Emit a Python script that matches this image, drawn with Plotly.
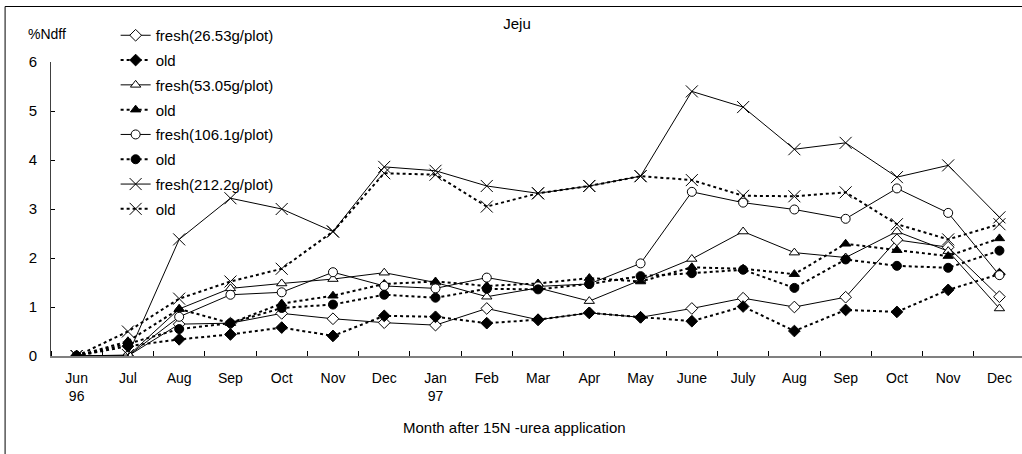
import plotly.graph_objects as go

months = ["Jun<br>96", "Jul", "Aug", "Sep", "Oct", "Nov", "Dec", "Jan<br>97", "Feb", "Mar",
          "Apr", "May", "June", "July", "Aug", "Sep", "Oct", "Nov", "Dec"]
x_idx = list(range(len(months)))

fresh_26 = [0, 0, 0.65, 0.67, 0.87, 0.76, 0.68, 0.63, 0.97, 0.74, 0.88, 0.79, 0.97, 1.18, 1.00, 1.20, 2.37, 2.22, 1.21]
old_26 = [0, 0.20, 0.34, 0.44, 0.58, 0.41, 0.82, 0.80, 0.67, 0.74, 0.88, 0.79, 0.71, 1.01, 0.51, 0.94, 0.90, 1.35, 1.67]
fresh_53 = [0, 0, 0.96, 1.38, 1.48, 1.57, 1.70, 1.50, 1.21, 1.39, 1.12, 1.55, 1.98, 2.54, 2.11, 2.01, 2.54, 2.14, 0.97]
old_53 = [0, 0.30, 0.96, 0.67, 1.07, 1.23, 1.47, 1.52, 1.43, 1.48, 1.59, 1.52, 1.81, 1.78, 1.67, 2.29, 2.16, 2.04, 2.40]
fresh_106 = [0, 0, 0.80, 1.25, 1.30, 1.71, 1.43, 1.38, 1.60, 1.42, 1.47, 1.89, 3.35, 3.13, 2.99, 2.80, 3.42, 2.92, 1.65]
old_106 = [0, 0.25, 0.55, 0.67, 0.98, 1.05, 1.25, 1.19, 1.37, 1.36, 1.47, 1.63, 1.69, 1.76, 1.39, 1.97, 1.84, 1.80, 2.15]
fresh_212 = [0, 0.02, 2.38, 3.22, 3.00, 2.54, 3.86, 3.78, 3.47, 3.32, 3.47, 3.67, 5.40, 5.08, 4.22, 4.35, 3.65, 3.89, 2.83]
old_212 = [0, 0.50, 1.17, 1.52, 1.78, 2.54, 3.73, 3.70, 3.05, 3.32, 3.47, 3.67, 3.59, 3.27, 3.26, 3.34, 2.69, 2.38, 2.69]

series = [
    ("fresh(26.53g/plot)", fresh_26, "solid", "diamond", "white", 9),
    ("old", old_26, "dot", "diamond", "black", 9),
    ("fresh(53.05g/plot)", fresh_53, "solid", "triangle-up", "white", 9),
    ("old", old_53, "dot", "triangle-up", "black", 9),
    ("fresh(106.1g/plot)", fresh_106, "solid", "circle", "white", 9),
    ("old", old_106, "dot", "circle", "black", 9),
    ("fresh(212.2g/plot)", fresh_212, "solid", "x-thin", "black", 12),
    ("old", old_212, "dot", "x-thin", "black", 12),
]

FONT = "Liberation Sans, Arial, sans-serif"

fig = go.Figure()
for i, (name, ys, dash, sym, fill, size) in enumerate(series):
    fig.add_trace(go.Scatter(
        x=x_idx, y=ys, name=name, mode="lines+markers",
        legendgroup=str(i),
        line=dict(color="black", width=1 if dash == "solid" else 2, dash=dash),
        marker=dict(symbol=sym, size=size, color=fill,
                    line=dict(color="black", width=1)),
    ))

W, H = 1022, 454
L, T, B, R = 51.4, 62, 98, 0
pw, ph = W - L - R, H - T - B

def px(xp):
    return (xp - L) / pw

def py(yp):
    return (H - B - yp) / ph

fig.update_layout(
    width=W, height=H,
    margin=dict(l=L, r=R, t=T, b=B, pad=0),
    paper_bgcolor="white", plot_bgcolor="white",
    font=dict(family=FONT, size=15, color="black"),
    title=dict(text="Jeju", x=517 / W, xanchor="center", y=1 - 24 / H, yanchor="middle",
               font=dict(size=15, family=FONT, color="black")),
    showlegend=True,
    legend=dict(x=px(116), y=py(19), xanchor="left", yanchor="top",
                bgcolor="rgba(0,0,0,0)", borderwidth=0,
                font=dict(size=15, family=FONT), tracegroupgap=2.3,
                itemsizing="trace"),
    xaxis=dict(range=[-0.5, 18.44], tickmode="array", tickvals=x_idx, ticktext=months,
               ticks="", showgrid=False, zeroline=False, showline=True,
               linecolor="#808080", linewidth=2, ticklabelstandoff=8,
               tickfont=dict(size=14, family=FONT),
               minor=dict(tick0=-0.5, dtick=1, ticks="inside", ticklen=5,
                          tickcolor="black", tickwidth=1, showgrid=False)),
    yaxis=dict(range=[0, 6], tickvals=[0, 1, 2, 3, 4, 5, 6], ticks="inside", ticklen=4,
               tickcolor="black", showgrid=False, zeroline=False, showline=True,
               linecolor="#404040", linewidth=1, ticklabelstandoff=10,
               tickfont=dict(size=15, family=FONT)),
    annotations=[
        dict(text="%Ndff", x=px(47), y=py(34), xref="paper", yref="paper",
             showarrow=False, xanchor="center", yanchor="middle", font=dict(size=14)),
        dict(text="Month after 15N -urea application", x=px(515), y=py(427),
             xref="paper", yref="paper", showarrow=False, xanchor="center",
             yanchor="middle", font=dict(size=15)),
    ],
    shapes=[dict(type="rect", xref="paper", yref="paper",
                 x0=px(5.5), x1=px(1030), y0=py(470), y1=py(6.5),
                 line=dict(color="black", width=1), layer="below")],
)

fig.write_html("out.html", config={"displayModeBar": False},
               post_script="document.body.style.margin='0';document.body.style.overflow='hidden';")
